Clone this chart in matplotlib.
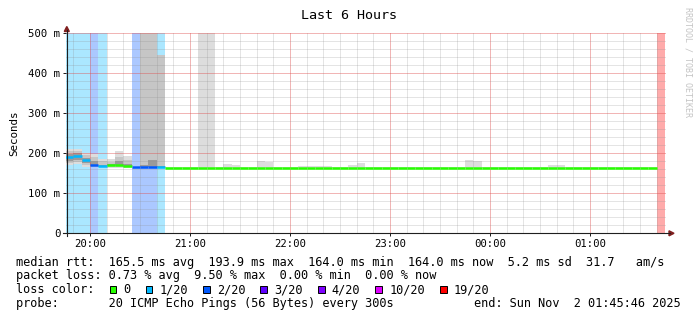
import matplotlib
matplotlib.use("Agg")  # headless
import matplotlib.pyplot as plt
import matplotlib.dates as mdates
import matplotlib.ticker as mticker
from matplotlib.lines import Line2D
from matplotlib.patches import Rectangle, Polygon
import numpy as np
import pandas as pd

W, H = 697, 321
nan = float("nan")

# ---- data -----------------------------------------------------------------
START = "2025-11-01 19:45"          # first 5 minute step on the canvas
END = "2025-11-02 01:45:46"
STEP = "5min"

# median rtt per step (ms)
median_ms = [
    191, 193.9, 183, 172, 168, 170.5, 172, 169, 166.5, 166.5, 166.5, 166,
    164, 164, 164, 164, 164, 164, 164, 164, 164, 164, 164, 164,
    164, 164, 164, 164, 164, 164, 164, 164, 164, 164, 164, 164,
    164, 164, 164, 164, 164, 164, 164, 164, 164, 164, 164, 164,
    164, 164, 164, 164, 164, 164, 164, 164, 164, 164, 164, 164,
    164, 164, 164, 164, 164, 164, 164, 164, 164, 164, 164, nan,
]
# lost pings out of 20 per step
loss_of_20 = [
    1, 1, 1, 2, 1, 0, 0, 0, 2, 2, 2, 1,
    0, 0, 0, 0, 0, 0, 0, 0, 0, 0, 0, 0,
    0, 0, 0, 0, 0, 0, 0, 0, 0, 0, 0, 0,
    0, 0, 0, 0, 0, 0, 0, 0, 0, 0, 0, 0,
    0, 0, 0, 0, 0, 0, 0, 0, 0, 0, 0, 0,
    0, 0, 0, 0, 0, 0, 0, 0, 0, 0, 0, 20,
]
# smoke: fastest / slowest ping per step (ms)
smoke_min = [
    170, 174, 167, 165, 165, 162.5, 162.5, 162.5, 162.5, 162.5, 162.5, 162.5,
    162.5, 162.5, 162.5, 162.5, 162.5, 162.5, 162.5, 162.5, 162.5, 162.5, 162.5, 162.5,
    162.5, 162.5, 162.5, 162.5, 162.5, 162.5, 162.5, 162.5, 162.5, 162.5, 162.5, 162.5,
    162.5, 162.5, 162.5, 162.5, 162.5, 162.5, 162.5, 162.5, 162.5, 162.5, 162.5, 162.5,
    162.5, 162.5, 162.5, 162.5, 162.5, 162.5, 162.5, 162.5, 162.5, 162.5, 162.5, 162.5,
    162.5, 162.5, 162.5, 162.5, 162.5, 162.5, 162.5, 162.5, 162.5, 162.5, 162.5, nan,
]
smoke_max = [
    212, 210, 200, 198, 186, 187, 206, 193, 169, 650, 650, 445,
    166, 166, 166, 166, 650, 650, 166, 173, 171.5, 166, 166, 181,
    178, 166, 166, 166, 169.5, 169.5, 169.5, 169.5, 166, 166, 172, 175,
    166, 166, 166, 166, 166, 166, 166, 166, 166, 166, 166, 166,
    183, 182, 166, 166, 166, 166, 166, 166, 166, 166, 172, 171,
    166, 166, 166, 166, 166, 166, 166, 166, 166, 166, 166, nan,
]
# inner smoke bands, only visible during the first hour
mid_lo = [176, 178, 171, 167, 166, 166, 167, 166, 165, 165, 165, 164.5]
mid_hi = [206, 205, 195, 190, 180, 179, 190, 183, 167, 650, 650, 445]
core_lo = [182, 184, 176, 169, 167, 168, 169, 167, 165.5, 165.5, 166, 165]
core_hi = [199, 200, 188, 180, 172, 174, 180, 174, 167, 170, 182, 168]

loss_labels = ["0", "1/20", "2/20", "3/20", "4/20", "10/20", "19/20"]
loss_steps = [0, 1, 2, 3, 4, 10, 19]
loss_colors = ["#26ff00", "#00b8ff", "#0059ff", "#5e00ff", "#7e00ff", "#dd00ff", "#ff0000"]

legend_rows = [
    "median rtt:  165.5 ms avg  193.9 ms max  164.0 ms min  164.0 ms now  5.2 ms sd  31.7   am/s",
    "packet loss: 0.73 % avg  9.50 % max  0.00 % min  0.00 % now",
    "loss color:",
    "probe:       20 ICMP Echo Pings (56 Bytes) every 300s",
]
end_label = "end: Sun Nov  2 01:45:46 2025"

# ---- style ------------------------------------------------------------------
MONO = "DejaVu Sans Mono"
AXIS = (0.12, 0.12, 0.12)
ARROW = (0.5, 0.12, 0.12)
ADV = 7.18  # legend character advance, px


def fx(x):
    return x / W


def fy(y):
    return 1 - y / H


def loss_color(n):
    c = loss_colors[0]
    for step, col in zip(loss_steps, loss_colors):
        if n >= step:
            c = col
    return c


times = pd.date_range(START, periods=len(median_ms), freq=STEP)
x0 = mdates.date2num(times.to_pydatetime())
width = 5 / 1440
end = pd.Timestamp(END)

fig = plt.figure(figsize=(W / 100, H / 100), dpi=100)
fig.patch.set_facecolor("white")
ax = fig.add_axes([fx(66.3), fy(233.3), 600 / W, 200 / H])

# loss background
for x, n in zip(x0, loss_of_20):
    if n > 0:
        ax.bar(x, 650, width=width, align="edge", color=loss_color(n),
               alpha=0.33, lw=0, zorder=0.5)

# smoke
smin = np.array(smoke_min)
smax = np.array(smoke_max)
ax.bar(x0, smax - smin, bottom=smin, width=width, align="edge",
       color="#dddddd", lw=0, zorder=1)
k = len(mid_lo)
ax.bar(x0[:k], np.array(mid_hi) - np.array(mid_lo), bottom=mid_lo, width=width,
       align="edge", color="#c6c6c6", lw=0, zorder=1.1)
ax.bar(x0[:k], np.array(core_hi) - np.array(core_lo), bottom=core_lo, width=width,
       align="edge", color="#9a9a9a", lw=0, zorder=1.2)

# median line coloured by loss
for x, m, n in zip(x0, median_ms, loss_of_20):
    if not np.isnan(m):
        ax.hlines(m, x, x + width, colors=loss_color(n), lw=1.8, zorder=3,
                  capstyle="butt")

ax.set_xlim(mdates.date2num(end - pd.Timedelta(hours=6)), mdates.date2num(end))
ax.set_ylim(0, 500)

ax.xaxis.set_major_locator(mdates.HourLocator())
ax.xaxis.set_minor_locator(mdates.MinuteLocator(byminute=range(0, 60, 10)))
ax.xaxis.set_major_formatter(mdates.DateFormatter("%H:%M"))
ax.yaxis.set_major_locator(mticker.MultipleLocator(100))
ax.yaxis.set_minor_locator(mticker.MultipleLocator(20))
ax.yaxis.set_major_formatter(
    mticker.FuncFormatter(lambda v, p: "0" if v == 0 else f"{v:.0f} m"))

ax.set_axisbelow(False)
ax.grid(which="minor", color=(0.56, 0.56, 0.56), alpha=0.24, lw=0.72)
ax.grid(which="major", color=(0.87, 0.31, 0.31), alpha=0.42, lw=0.72)
ax.tick_params(which="major", direction="out", length=2.5, width=0.72,
               color=AXIS, labelsize=7.65, pad=1.8)
ax.tick_params(which="minor", length=0)
for lab in ax.get_xticklabels() + ax.get_yticklabels():
    lab.set_family(MONO)
for s in ax.spines.values():
    s.set_visible(False)

# axes with arrows, rrdtool style
fig.add_artist(Line2D([fx(63), fx(670)], [fy(233.3), fy(233.3)], color=AXIS, lw=0.8))
fig.add_artist(Line2D([fx(66.8), fx(66.8)], [fy(236), fy(30)], color=AXIS, lw=0.8))
fig.add_artist(Polygon([[fx(674), fy(233.3)], [fx(669), fy(230.8)], [fx(669), fy(235.8)]],
                       closed=True, color=ARROW, transform=fig.transFigure))
fig.add_artist(Polygon([[fx(66.8), fy(26.5)], [fx(64.3), fy(31.5)], [fx(69.3), fy(31.5)]],
                       closed=True, color=ARROW, transform=fig.transFigure))

# texts
fig.text(fx(349), fy(15.7), "Last 6 Hours", family=MONO, fontsize=9.6,
         ha="center", va="center")
fig.text(fx(14), fy(133), "Seconds", family=MONO, fontsize=7.8, rotation=90,
         ha="center", va="center")
fig.text(fx(688), fy(7), "RRDTOOL / TOBI OETIKER", family=MONO, fontsize=6,
         rotation=270, ha="center", va="top", color="#c4c4c4")

baselines = [265.7, 279.3, 293.3, 307.3]
for row, yb in zip(legend_rows, baselines):
    fig.text(fx(16), fy(yb), row, family=MONO, fontsize=8.6, ha="left",
             va="baseline")
fig.text(fx(681), fy(baselines[3]), end_label, family=MONO, fontsize=8.6,
         ha="right", va="baseline")

# loss colour legend boxes
col = 13
for lab, c in zip(loss_labels, loss_colors):
    xs = 16 + col * ADV + 0.3
    fig.add_artist(Rectangle((fx(xs), fy(293)), 6.7 / W, 7.3 / H, facecolor=c,
                             edgecolor="black", lw=0.7, transform=fig.transFigure))
    fig.text(fx(16 + (col + 2) * ADV), fy(baselines[2]), lab, family=MONO,
             fontsize=8.6, ha="left", va="baseline")
    col += 2 + len(lab) + 2

fig.savefig("out.png", dpi=100)
